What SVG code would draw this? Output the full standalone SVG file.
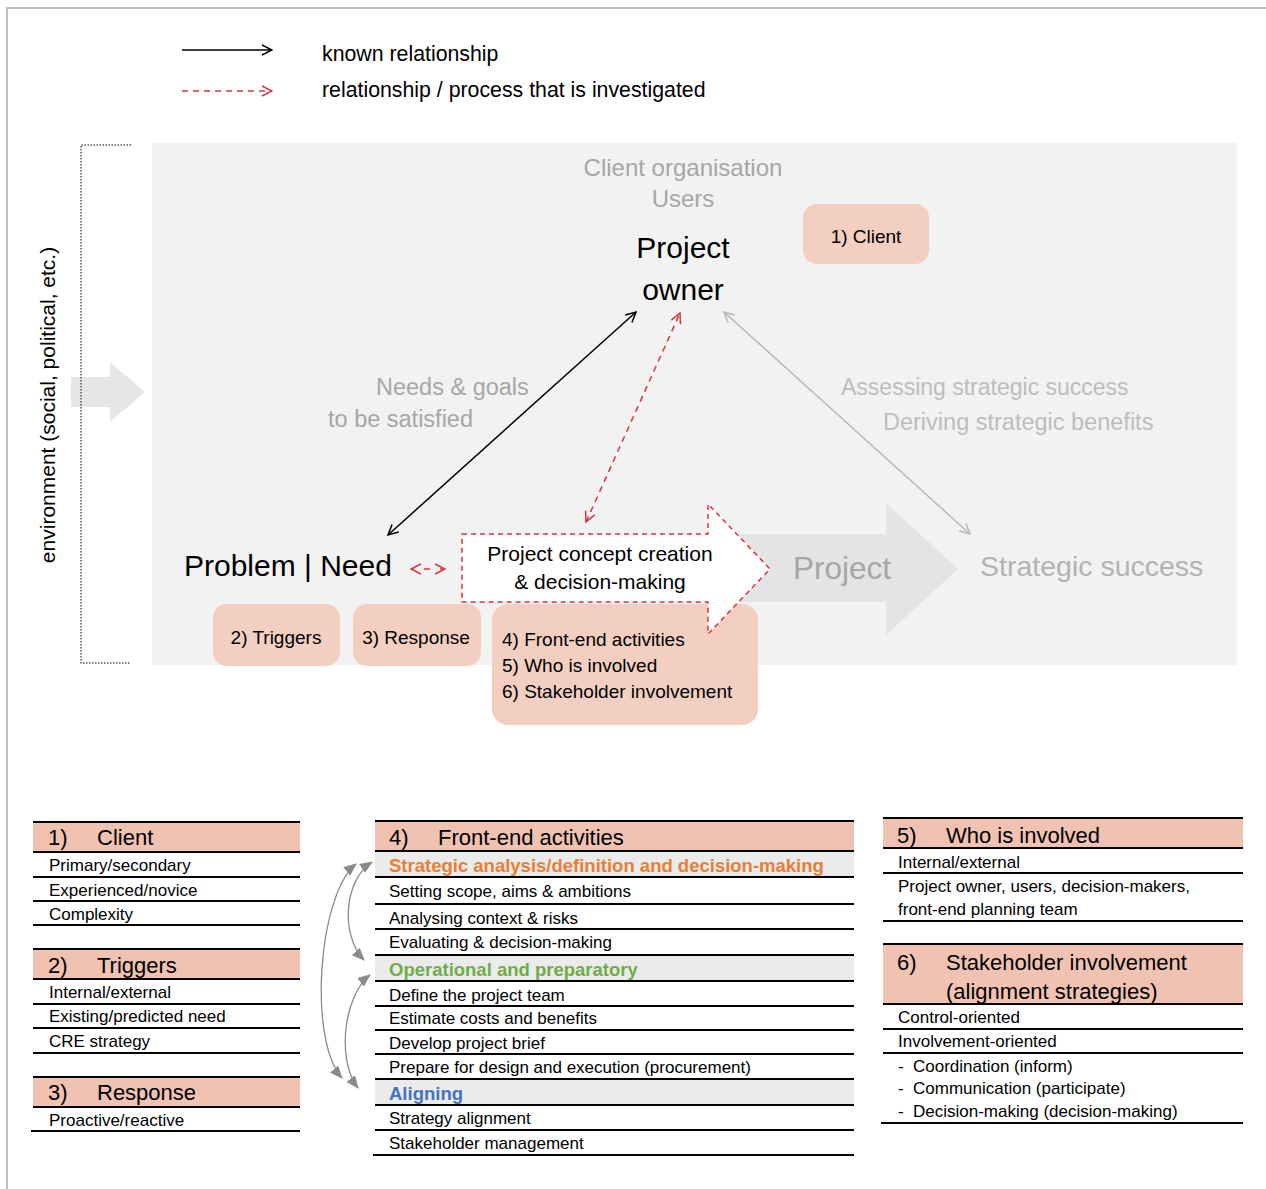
<svg xmlns="http://www.w3.org/2000/svg" width="1266" height="1189" viewBox="0 0 1266 1189">
  <style>
    text { font-family: "Liberation Sans", Arial, sans-serif; }
    .lg { font-size: 21.3px; fill: #000; }
    .grey { fill: #a6a6a6; }
    .pale { fill: #bdbdbd; }
    .big { font-size: 30px; fill: #000; }
    .box { fill: #f3cfc1; }
    .boxt { font-size: 19px; fill: #000; }
    .hdr { fill: #f0c2b1; }
    .band { fill: #ebebeb; }
    .ht { font-size: 22px; fill: #000; }
    .rt { font-size: 17px; fill: #000; }
    .rule { stroke: #000; stroke-width: 2; }
    .sub { font-size: 18.5px; font-weight: bold; }
  </style>
  <defs>
    <marker id="head-black" viewBox="0 0 12 12" refX="11" refY="6" markerWidth="12" markerHeight="12" markerUnits="userSpaceOnUse" orient="auto-start-reverse">
      <path d="M1,1 L11,6 L1,11" fill="none" stroke="#000" stroke-width="1.5"/>
    </marker>
    <marker id="head-red" viewBox="0 0 12 12" refX="11" refY="6" markerWidth="12" markerHeight="12" markerUnits="userSpaceOnUse" orient="auto-start-reverse">
      <path d="M1,1 L11,6 L1,11" fill="none" stroke="#d9333f" stroke-width="1.5"/>
    </marker>
    <marker id="head-grey" viewBox="0 0 12 12" refX="11" refY="6" markerWidth="12" markerHeight="12" markerUnits="userSpaceOnUse" orient="auto-start-reverse">
      <path d="M1,1 L11,6 L1,11" fill="none" stroke="#b8b8b8" stroke-width="1.5"/>
    </marker>
    <marker id="head-fill" viewBox="0 0 12 10" refX="11" refY="5" markerWidth="13" markerHeight="11" markerUnits="userSpaceOnUse" orient="auto-start-reverse">
      <path d="M0,0 L12,5 L0,10 Z" fill="#8a8a8a"/>
    </marker>
  </defs>

  <!-- outer frame -->
  <path d="M7,1189 L7,8 L1266,8" fill="none" stroke="#bfbfbf" stroke-width="2"/>

  <!-- legend -->
  <g id="legend">
    <line x1="182" y1="50" x2="272" y2="50" stroke="#000" stroke-width="1.5" marker-end="url(#head-black)"/>
    <text class="lg" x="322" y="61">known relationship</text>
    <line x1="182" y1="91" x2="272" y2="91" stroke="#d9333f" stroke-width="1.5" stroke-dasharray="6,5" marker-end="url(#head-red)"/>
    <text class="lg" x="322" y="97">relationship / process that is investigated</text>
  </g>

  <!-- environment bracket and inflow arrow -->
  <g id="environment">
    <path d="M71,377 L110,377 L110,362 L145,392 L110,422 L110,407 L71,407 Z" fill="#e6e6e6"/>
    <path d="M131,145 L81,145 L81,663 L131,663" fill="none" stroke="#555" stroke-width="1.5" stroke-dasharray="1.5,1.5"/>
    <text x="55" y="405" font-size="21" text-anchor="middle" transform="rotate(-90 55 405)">environment (social, political, etc.)</text>
  </g>

  <!-- context panel -->
  <rect id="panel" x="152" y="143" width="1085" height="522" fill="#f2f2f2"/>

  <g id="project-arrow">
    <path d="M700,534 L886,534 L886,503 L958,569 L886,635 L886,602 L700,602 Z" fill="#e4e4e4"/>
    <text x="793" y="579" font-size="31.5" class="grey">Project</text>
  </g>

  <g id="strategic-success">
    <text x="980" y="576" font-size="28.5" fill="#b3b3b3">Strategic success</text>
  </g>

  <g id="project-owner">
    <text x="683" y="176" font-size="24" class="grey" text-anchor="middle">Client organisation</text>
    <text x="683" y="207" font-size="24" class="grey" text-anchor="middle">Users</text>
    <text class="big" x="683" y="258" text-anchor="middle">Project</text>
    <text class="big" x="683" y="300" text-anchor="middle">owner</text>
  </g>

  <g id="client-tag">
    <rect class="box" x="803" y="204" width="126" height="60" rx="14"/>
    <text class="boxt" x="866" y="243" text-anchor="middle">1) Client</text>
  </g>

  <g id="problem-need">
    <text class="big" x="184" y="576">Problem | Need</text>
  </g>

  <g id="triggers-tag">
    <rect class="box" x="213" y="604" width="127" height="62" rx="14"/>
    <text class="boxt" x="276" y="644" text-anchor="middle">2) Triggers</text>
  </g>

  <g id="response-tag">
    <rect class="box" x="353" y="604" width="128" height="62" rx="14"/>
    <text class="boxt" x="416" y="644" text-anchor="middle">3) Response</text>
  </g>

  <g id="front-end-tag">
    <rect class="box" x="492" y="604" width="266" height="121" rx="16"/>
    <text class="boxt" x="502" y="646">4) Front-end activities</text>
    <text class="boxt" x="502" y="672">5) Who is involved</text>
    <text class="boxt" x="502" y="698">6) Stakeholder involvement</text>
  </g>

  <g id="concept-arrow">
    <path d="M462,534 L708,534 L708,504 L770,569 L708,634 L708,602 L462,602 Z" fill="#fff" stroke="#d9333f" stroke-width="1.5" stroke-dasharray="5,4"/>
    <text x="600" y="561" font-size="21" text-anchor="middle">Project concept creation</text>
    <text x="600" y="589" font-size="21" text-anchor="middle">&amp; decision-making</text>
  </g>

  <!-- relation labels -->
  <g id="labels">
    <text x="376" y="395" font-size="23.5" class="grey">Needs &amp; goals</text>
    <text x="328" y="427" font-size="23.5" class="grey">to be satisfied</text>
    <text x="841" y="395" font-size="23" class="pale">Assessing strategic success</text>
    <text x="883" y="430" font-size="23.5" class="pale">Deriving strategic benefits</text>
  </g>

  <!-- connectors -->
  <g id="connectors" fill="none">
    <line x1="388" y1="535" x2="636" y2="312" stroke="#000" stroke-width="1.5" marker-start="url(#head-black)" marker-end="url(#head-black)"/>
    <line x1="586" y1="522" x2="680" y2="313" stroke="#d9333f" stroke-width="1.5" stroke-dasharray="6,5" marker-start="url(#head-red)" marker-end="url(#head-red)"/>
    <line x1="724" y1="312" x2="970" y2="534" stroke="#b8b8b8" stroke-width="1.5" marker-start="url(#head-grey)" marker-end="url(#head-grey)"/>
    <line x1="411" y1="569" x2="445" y2="569" stroke="#d9333f" stroke-width="1.5" stroke-dasharray="3,10,6,10,3" marker-start="url(#head-red)" marker-end="url(#head-red)"/>
    <path d="M356,864 C318,895 308,1040 342,1078" stroke="#8a8a8a" stroke-width="1.3" marker-start="url(#head-fill)" marker-end="url(#head-fill)"/>
    <path d="M372,862 C344,880 340,935 364,960" stroke="#8a8a8a" stroke-width="1.3" marker-start="url(#head-fill)" marker-end="url(#head-fill)"/>
    <path d="M370,975 C344,995 336,1060 358,1088" stroke="#8a8a8a" stroke-width="1.3" marker-start="url(#head-fill)" marker-end="url(#head-fill)"/>
  </g>

  <!-- table 1: client -->
  <g id="table-client">
    <rect class="hdr" x="33" y="822" width="267" height="30"/>
    <text class="ht" x="48" y="845">1)</text>
    <text class="ht" x="97" y="845">Client</text>
    <text class="rt" x="49" y="871">Primary/secondary</text>
    <text class="rt" x="49" y="896">Experienced/novice</text>
    <text class="rt" x="49" y="920">Complexity</text>
    <g class="rule">
      <line x1="33" y1="822" x2="300" y2="822"/>
      <line x1="33" y1="852" x2="300" y2="852"/>
      <line x1="33" y1="877" x2="300" y2="877"/>
      <line x1="33" y1="901" x2="300" y2="901"/>
      <line x1="33" y1="925" x2="300" y2="925"/>
    </g>
  </g>

  <!-- table 2: triggers -->
  <g id="table-triggers">
    <rect class="hdr" x="33" y="949" width="267" height="30"/>
    <text class="ht" x="48" y="973">2)</text>
    <text class="ht" x="97" y="973">Triggers</text>
    <text class="rt" x="49" y="998">Internal/external</text>
    <text class="rt" x="49" y="1022">Existing/predicted need</text>
    <text class="rt" x="49" y="1047">CRE strategy</text>
    <g class="rule">
      <line x1="33" y1="949" x2="300" y2="949"/>
      <line x1="33" y1="979" x2="300" y2="979"/>
      <line x1="33" y1="1004" x2="300" y2="1004"/>
      <line x1="33" y1="1028" x2="300" y2="1028"/>
      <line x1="33" y1="1053" x2="300" y2="1053"/>
    </g>
  </g>

  <!-- table 3: response -->
  <g id="table-response">
    <rect class="hdr" x="33" y="1077" width="267" height="30"/>
    <text class="ht" x="48" y="1100">3)</text>
    <text class="ht" x="97" y="1100">Response</text>
    <text class="rt" x="49" y="1126">Proactive/reactive</text>
    <g class="rule">
      <line x1="33" y1="1077" x2="300" y2="1077"/>
      <line x1="33" y1="1107" x2="300" y2="1107"/>
      <line x1="31" y1="1131" x2="300" y2="1131"/>
    </g>
  </g>

  <!-- table 4: front-end activities -->
  <g id="table-front-end">
    <rect class="hdr" x="375" y="821" width="479" height="30"/>
    <rect class="band" x="375" y="851" width="479" height="26"/>
    <rect class="band" x="375" y="955" width="479" height="26"/>
    <rect class="band" x="375" y="1079" width="479" height="26"/>
    <text class="ht" x="389" y="845">4)</text>
    <text class="ht" x="438" y="845">Front-end activities</text>
    <text class="sub" x="389" y="872" fill="#ed7d31">Strategic analysis/definition and decision-making</text>
    <text class="rt" x="389" y="897">Setting scope, aims &amp; ambitions</text>
    <text class="rt" x="389" y="924">Analysing context &amp; risks</text>
    <text class="rt" x="389" y="948">Evaluating &amp; decision-making</text>
    <text class="sub" x="389" y="976" fill="#70ad47">Operational and preparatory</text>
    <text class="rt" x="389" y="1001">Define the project team</text>
    <text class="rt" x="389" y="1024">Estimate costs and benefits</text>
    <text class="rt" x="389" y="1049">Develop project brief</text>
    <text class="rt" x="389" y="1073">Prepare for design and execution (procurement)</text>
    <text class="sub" x="389" y="1100" fill="#4472c4">Aligning</text>
    <text class="rt" x="389" y="1124">Strategy alignment</text>
    <text class="rt" x="389" y="1149">Stakeholder management</text>
    <g class="rule">
      <line x1="375" y1="821" x2="854" y2="821"/>
      <line x1="375" y1="851" x2="854" y2="851"/>
      <line x1="375" y1="877" x2="854" y2="877"/>
      <line x1="375" y1="904" x2="854" y2="904"/>
      <line x1="375" y1="929" x2="854" y2="929"/>
      <line x1="375" y1="955" x2="854" y2="955"/>
      <line x1="375" y1="981" x2="854" y2="981"/>
      <line x1="375" y1="1006" x2="854" y2="1006"/>
      <line x1="375" y1="1030" x2="854" y2="1030"/>
      <line x1="375" y1="1054" x2="854" y2="1054"/>
      <line x1="375" y1="1079" x2="854" y2="1079"/>
      <line x1="375" y1="1105" x2="854" y2="1105"/>
      <line x1="375" y1="1130" x2="854" y2="1130"/>
      <line x1="373" y1="1155" x2="854" y2="1155"/>
    </g>
  </g>

  <!-- table 5: who is involved -->
  <g id="table-who">
    <rect class="hdr" x="883" y="818" width="360" height="30"/>
    <text class="ht" x="897" y="843">5)</text>
    <text class="ht" x="946" y="843">Who is involved</text>
    <text class="rt" x="898" y="868">Internal/external</text>
    <text class="rt" x="898" y="892">Project owner, users, decision-makers,</text>
    <text class="rt" x="898" y="915">front-end planning team</text>
    <g class="rule">
      <line x1="883" y1="818" x2="1243" y2="818"/>
      <line x1="883" y1="848" x2="1243" y2="848"/>
      <line x1="883" y1="873" x2="1243" y2="873"/>
      <line x1="883" y1="921" x2="1243" y2="921"/>
    </g>
  </g>

  <!-- table 6: stakeholder involvement -->
  <g id="table-stakeholder">
    <rect class="hdr" x="883" y="944" width="360" height="60"/>
    <text class="ht" x="897" y="970">6)</text>
    <text class="ht" x="946" y="970">Stakeholder involvement</text>
    <text class="ht" x="946" y="999">(alignment strategies)</text>
    <text class="rt" x="898" y="1023">Control-oriented</text>
    <text class="rt" x="898" y="1047">Involvement-oriented</text>
    <text class="rt" x="898" y="1072">-</text>
    <text class="rt" x="913" y="1072">Coordination (inform)</text>
    <text class="rt" x="898" y="1094">-</text>
    <text class="rt" x="913" y="1094">Communication (participate)</text>
    <text class="rt" x="898" y="1117">-</text>
    <text class="rt" x="913" y="1117">Decision-making (decision-making)</text>
    <g class="rule">
      <line x1="883" y1="944" x2="1243" y2="944"/>
      <line x1="883" y1="1004" x2="1243" y2="1004"/>
      <line x1="883" y1="1029" x2="1243" y2="1029"/>
      <line x1="883" y1="1053" x2="1243" y2="1053"/>
      <line x1="881" y1="1123" x2="1243" y2="1123"/>
    </g>
  </g>
</svg>
